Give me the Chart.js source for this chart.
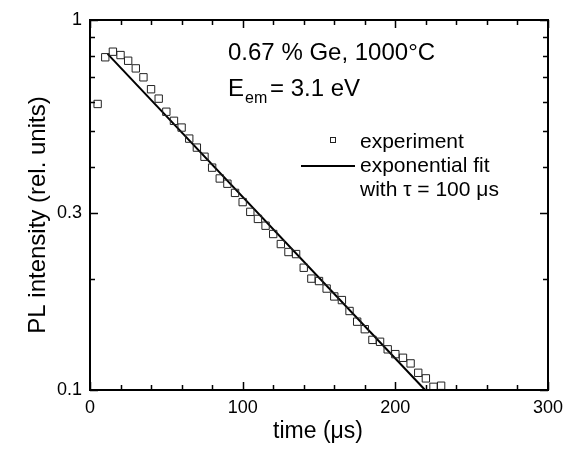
<!DOCTYPE html>
<html>
<head>
<meta charset="utf-8">
<script src="https://cdn.jsdelivr.net/npm/chart.js@4/dist/chart.umd.min.js"></script>
<style>
  html, body { margin: 0; padding: 0; background: #fff; }
  canvas { display: block; }
</style>
</head>
<body>
<canvas id="plChart" width="571" height="457"></canvas>
<script>
// decay data, time in microseconds
const timeUs = [5, 10, 15, 20, 25, 30, 35, 40, 45, 50,
  55, 60, 65, 70, 75, 80, 85, 90, 95, 100,
  105, 110, 115, 120, 125, 130, 135, 140, 145, 150,
  155, 160, 165, 170, 175, 180, 185, 190, 195, 200,
  205, 210, 215, 220, 225, 230];
const plIntensity = [0.593, 0.793, 0.821, 0.804, 0.776, 0.740, 0.700, 0.650, 0.613, 0.565,
  0.534, 0.512, 0.478, 0.452, 0.427, 0.399, 0.373, 0.361, 0.341, 0.322,
  0.303, 0.290, 0.278, 0.264, 0.248, 0.236, 0.233, 0.214, 0.200, 0.197,
  0.188, 0.179, 0.175, 0.1635, 0.153, 0.146, 0.1366, 0.135, 0.1288, 0.125,
  0.1222, 0.118, 0.1113, 0.1075, 0.102, 0.1027];

// exponential fit (straight on log axis), end points
const fitTime = [11.5, 219.5];
const fitValue = [0.81, 0.1];

const xTicks = [0, 100, 200, 300];
const xMinorTicks = [20, 40, 60, 80, 120, 140, 160, 180, 220, 240, 260, 280];
const yTicks = [0.1, 0.3, 1];
const yMinorTicks = [0.2, 0.4, 0.5, 0.6, 0.7, 0.8, 0.9];

const FONT = '"Liberation Sans", Arial, sans-serif';

const toPoints = (xs, ys) => xs.map((x, i) => ({ x: x, y: ys[i] }));

// frame, inward ticks, titles and the legend text
const framePlugin = {
  id: 'frame',
  afterDraw(chart) {
    const ctx = chart.ctx;
    const a = chart.chartArea;
    const xs = chart.scales.x, ys = chart.scales.y;
    ctx.save();
    ctx.strokeStyle = '#000';
    ctx.lineWidth = 2;
    ctx.strokeRect(a.left, a.top, a.right - a.left, a.bottom - a.top);

    ctx.lineWidth = 1.5;
    ctx.beginPath();
    const xt = (v, len) => {
      const p = Math.round(xs.getPixelForValue(v)) + 0.5;
      ctx.moveTo(p, a.bottom); ctx.lineTo(p, a.bottom - len);
      ctx.moveTo(p, a.top); ctx.lineTo(p, a.top + len);
    };
    const yt = (v, len) => {
      const p = Math.round(ys.getPixelForValue(v)) + 0.5;
      ctx.moveTo(a.left, p); ctx.lineTo(a.left + len, p);
      ctx.moveTo(a.right, p); ctx.lineTo(a.right - len, p);
    };
    xTicks.forEach(v => xt(v, 8));
    xMinorTicks.forEach(v => xt(v, 5));
    yTicks.forEach(v => yt(v, 8));
    yMinorTicks.forEach(v => yt(v, 5));
    ctx.stroke();

    ctx.fillStyle = '#000';
    ctx.textBaseline = 'alphabetic';

    // axis titles
    ctx.font = '23px ' + FONT;
    ctx.textAlign = 'center';
    ctx.fillText('time (μs)', (a.left + a.right) / 2 - 1, 438);
    ctx.save();
    ctx.translate(45, 215);
    ctx.rotate(-Math.PI / 2);
    ctx.font = '24px ' + FONT;
    ctx.fillText('PL intensity (rel. units)', 0, 0);
    ctx.restore();

    // annotation
    ctx.textAlign = 'left';
    ctx.font = '24px ' + FONT;
    ctx.fillText('0.67 % Ge, 1000°C', 228, 60);
    ctx.fillText('E', 228, 96);
    ctx.fillText('= 3.1 eV', 270, 96);
    ctx.font = '16px ' + FONT;
    ctx.fillText('em', 245, 103);

    // legend
    ctx.strokeStyle = '#222';
    ctx.lineWidth = 1;
    ctx.strokeRect(330.5, 137.5, 5, 5);
    ctx.strokeStyle = '#000';
    ctx.lineWidth = 2;
    ctx.beginPath();
    ctx.moveTo(301, 166); ctx.lineTo(355, 166);
    ctx.stroke();
    ctx.font = '21px ' + FONT;
    ctx.fillText('experiment', 360, 148);
    ctx.fillText('exponential fit', 360, 172);
    ctx.fillText('with τ = 100 μs', 360, 196);
    ctx.restore();
  }
};

new Chart(document.getElementById('plChart').getContext('2d'), {
  type: 'scatter',
  data: {
    datasets: [{
      label: 'experiment',
      data: toPoints(timeUs, plIntensity),
      showLine: false,
      pointStyle: 'rect',
      pointRadius: 5.2,
      borderWidth: 1,
      borderColor: '#222',
      backgroundColor: 'rgba(0,0,0,0)',
      clip: false
    }, {
      label: 'exponential fit',
      data: toPoints(fitTime, fitValue),
      showLine: true,
      pointRadius: 0,
      borderWidth: 2,
      borderColor: '#000',
      clip: false
    }]
  },
  options: {
    responsive: false,
    animation: false,
    devicePixelRatio: 1,
    layout: { padding: { top: 20, right: 23, left: 0, bottom: 0 } },
    plugins: { legend: { display: false }, tooltip: { enabled: false } },
    scales: {
      x: {
        type: 'linear',
        min: 0, max: 300,
        grid: { display: false, drawTicks: false },
        border: { display: false },
        afterBuildTicks: s => { s.ticks = xTicks.map(v => ({ value: v })); },
        afterFit: s => { s.height = 67; },
        ticks: { padding: 7, color: '#000', font: { family: FONT, size: 18 },
          callback: v => String(v) }
      },
      y: {
        type: 'logarithmic',
        min: 0.1, max: 1,
        grid: { display: false, drawTicks: false },
        border: { display: false },
        afterBuildTicks: s => { s.ticks = yTicks.map(v => ({ value: v })); },
        afterFit: s => { s.width = 90; },
        ticks: { padding: 8, color: '#000', font: { family: FONT, size: 18 },
          callback: v => String(v) }
      }
    }
  },
  plugins: [framePlugin]
});
</script>
</body>
</html>
